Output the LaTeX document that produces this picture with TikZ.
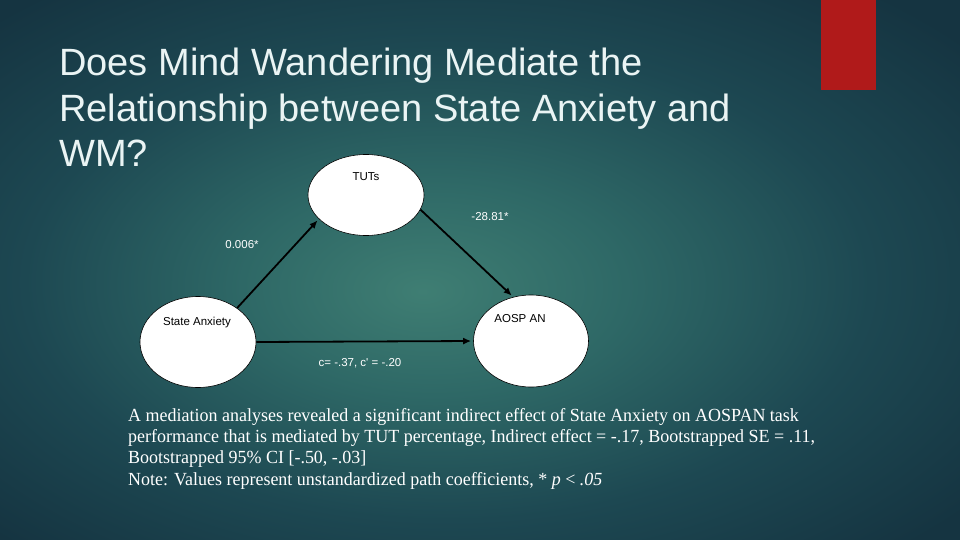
\documentclass[tikz,border=0pt]{standalone}
\usepackage{fontspec}
\setmainfont{Liberation Serif}
\newfontfamily\arialfont{Liberation Sans}
\usetikzlibrary{shapes.geometric,arrows.meta}
\definecolor{bgA}{HTML}{3F7E73}
\definecolor{bgB}{HTML}{2E6866}
\definecolor{bgC}{HTML}{1D4852}
\definecolor{bgD}{HTML}{153441}
\definecolor{redbar}{HTML}{B01A1A}
\definecolor{titlecol}{HTML}{EAF4F4}
\pgfdeclareradialshading{slidebg}{\pgfpoint{-3bp}{-2bp}}{color(0bp)=(bgA); color(10bp)=(bgB); color(22bp)=(bgC); color(34bp)=(bgD); color(50bp)=(bgD)}
\tikzset{
  latent/.style={ellipse, draw=black, line width=0.6pt, fill=white, inner sep=0pt},
  nodelbl/.style={font=\arialfont\fontsize{11.5}{13}\selectfont, text=black, inner sep=0pt, anchor=base},
  pathlbl/.style={font=\arialfont\fontsize{11.5}{13}\selectfont, text=white, inner sep=0pt, anchor=base},
  titletxt/.style={font=\arialfont\fontsize{38}{46}\selectfont, text=titlecol, inner sep=0pt, anchor=base west},
  bodytxt/.style={font=\fontsize{18.5}{22}\selectfont, text=white, inner sep=0pt, anchor=base west},
  conn/.style={line width=1.8pt, -{Latex[length=8pt,width=7pt]}, shorten >=2pt}
}
\newcommand{\bodyline}[1]{\scalebox{0.972}[1]{#1}}
\begin{document}
\begin{tikzpicture}[x=1pt,y=-1pt]
\useasboundingbox (0,0) rectangle (960,540);
\shade[shading=slidebg] (0,0) rectangle (960,540);
\fill[redbar] (821,0) rectangle (876,90);
% title
\node[titletxt] (t1) at (59,76) {Does Mind Wandering Mediate the};
\node[titletxt] (t2) at (59,122) {Relationship between State Anxiety and};
\node[titletxt] (t3) at (59,167) {WM?};
% nodes
\node[latent, minimum width=116pt, minimum height=81pt] (tut) at (366,195) {};
\node[latent, minimum width=116pt, minimum height=91pt] (sa) at (198,342) {};
\node[latent, minimum width=115pt, minimum height=92pt] (ao) at (531,341) {};
\node[nodelbl] (tutl) at (366,181) {TUTs};
\node[nodelbl] (sal) at (197,325) {State Anxiety};
\node[nodelbl] (aol) at (520,322) {AOSP AN};
% connectors
\draw[conn] (sa.41) -- (tut.207);
\draw[conn] (tut.345) -- (ao.112);
\draw[conn] (sa.east) -- (ao.west);
% path labels
\node[pathlbl] (lb1) at (242,248) {0.006*};
\node[pathlbl] (lb2) at (490,220) {-28.81*};
\node[pathlbl] (lb3) at (360,366) {c= -.37, c' = -.20};
% body text
\node[bodytxt] (b1) at (128,421) {\bodyline{A mediation analyses revealed a significant indirect effect of State Anxiety on AOSPAN task}};
\node[bodytxt] (b2) at (128,442) {\bodyline{performance that is mediated by TUT percentage, Indirect effect = -.17, Bootstrapped SE = .11,}};
\node[bodytxt] (b3) at (128,463.5) {\bodyline{Bootstrapped 95\% CI [-.50, -.03]}};
\node[bodytxt] (b4) at (128,485) {\bodyline{Note: Values represent unstandardized path coefficients, * \textit{p} \textless{} \textit{.05}}};
\end{tikzpicture}
\end{document}
